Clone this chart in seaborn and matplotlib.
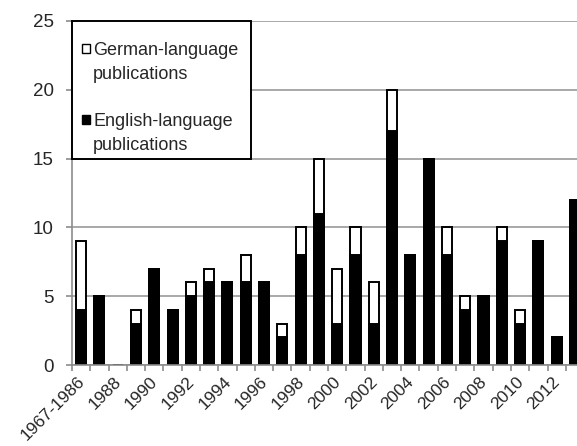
import matplotlib
matplotlib.use("Agg")
import matplotlib.pyplot as plt
import seaborn as sns
import pandas as pd
from matplotlib.patches import Patch, Rectangle
from matplotlib.ticker import FixedLocator
from matplotlib.legend_handler import HandlerBase

categories = ["1967-1986"] + [str(y) for y in range(1987, 2014)]
english = [4, 5, 0, 3, 7, 4, 5, 6, 6, 6, 6, 2, 8, 11, 3, 8, 3, 17, 8, 15, 8, 4, 5, 9, 3, 9, 2, 12]
german = [5, 0, 0, 1, 0, 0, 1, 1, 0, 2, 0, 1, 2, 4, 4, 2, 3, 3, 0, 0, 2, 1, 0, 1, 1, 0, 0, 0]
tick_labels = [c if i % 2 == 0 else "" for i, c in enumerate(categories)]
legend_labels = ["German-language\npublications", "English-language\npublications"]

df = pd.DataFrame({"year": categories, "english": english, "german": german})
df["total"] = df["english"] + df["german"]

sns.set_theme(style="white")
plt.rcParams["font.family"] = ["Liberation Sans", "DejaVu Sans"]

FS = 13
LINESP = 1.55

fig = plt.figure(figsize=(5.77, 4.46), dpi=100)
ax = fig.add_axes([0.1248, 0.1816, 0.8875, 0.7714])

sns.barplot(data=df, x="year", y="total", order=categories, color="white",
            edgecolor="black", linewidth=1.4, width=0.55, ax=ax, saturation=1)
sns.barplot(data=df, x="year", y="english", order=categories, color="black",
            edgecolor="black", linewidth=1.4, width=0.55, ax=ax, saturation=1)

ax.set_xlim(-0.5, len(categories) - 0.5)
ax.set_ylim(0, 25)
ax.set_yticks([0, 5, 10, 15, 20, 25])
ax.yaxis.grid(True, color="#999999", linewidth=1.2)
ax.set_axisbelow(True)
ax.set_xlabel("")
ax.set_ylabel("")

for s in ["top", "right"]:
    ax.spines[s].set_visible(False)
for s in ["left", "bottom"]:
    ax.spines[s].set_color("#8c8c8c")
    ax.spines[s].set_linewidth(1.2)

ax.set_xticks(range(len(categories)))
ax.set_xticklabels(tick_labels, rotation=45, ha="right", va="center_baseline",
                   rotation_mode="anchor", fontsize=12.5)
ax.tick_params(axis="x", which="major", length=0, pad=9.5)
ax.xaxis.set_minor_locator(FixedLocator([i - 0.5 for i in range(len(categories) + 1)]))
ax.tick_params(axis="x", which="minor", length=4.5, color="#8c8c8c", width=1.2, bottom=True)
ax.tick_params(axis="y", length=4.5, color="#8c8c8c", width=1.2, left=True, labelsize=13.5, pad=8.5)


class TopSquare(HandlerBase):
    """Square handle aligned with the first line of a two-line label."""
    def __init__(self, shift, size, **kw):
        super().__init__(**kw)
        self.shift = shift
        self.size = size

    def create_artists(self, legend, orig_handle, xdescent, ydescent, width, height, fontsize, trans):
        r = Rectangle((-xdescent, -ydescent + self.shift), self.size, self.size,
                      facecolor=orig_handle.get_facecolor(), edgecolor="black", linewidth=1.0,
                      transform=trans)
        return [r]


# legend frame (fixed-size box like the original)
frame = Rectangle((0, 15), 0.349, 10, transform=ax.get_yaxis_transform(),
                  facecolor="white", edgecolor="black", linewidth=1.4, zorder=5, clip_on=False)
ax.add_patch(frame)

handles = [Patch(facecolor="white"), Patch(facecolor="black")]
D = LINESP * 0.716 * FS
sq = 6.2
shift = 0.5 * D + 0.5 * 0.21 * FS + 3.0
leg = ax.legend(handles, legend_labels,
                handler_map={Patch: TopSquare(shift, sq)},
                loc="upper left", bbox_to_anchor=(0.019, 0.9388), borderaxespad=0,
                frameon=False, fontsize=FS, handlelength=sq / FS,
                handleheight=0.7, handletextpad=0.15, labelspacing=1.64,
                borderpad=0)
leg.set_zorder(6)
for t in leg.get_texts():
    t.set_linespacing(LINESP)

fig.savefig("out.png", dpi=100)
